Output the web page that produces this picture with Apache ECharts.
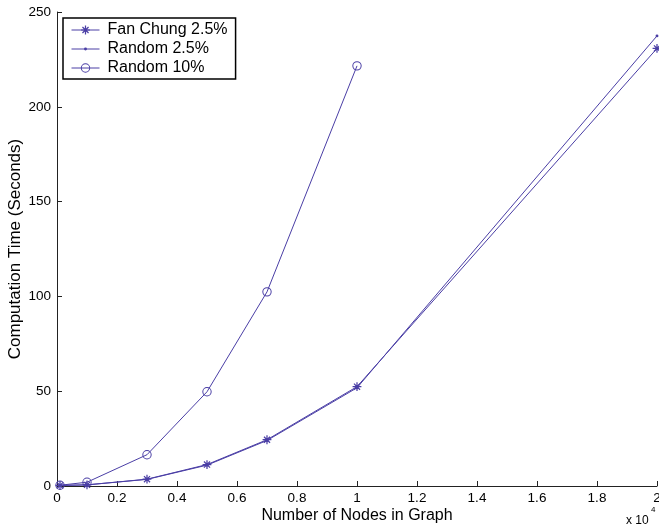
<!DOCTYPE html>
<html>
<head>
<meta charset="utf-8">
<script src="https://cdn.jsdelivr.net/npm/echarts@6/dist/echarts.min.js"></script>
<style>
  html, body { margin: 0; padding: 0; background: #fff; }
  #chart { width: 659px; height: 529px; }
</style>
</head>
<body>
<div id="chart"></div>
<script>
// Graph sizes (number of nodes) and measured computation times in seconds
const nodesSparse = [100, 1000, 3000, 5000, 7000, 10000, 20000];
const fanChung25 = [0.3, 0.6, 3.6, 11.3, 24.4, 52.4, 230.8];
const random25 = [0.3, 0.6, 3.5, 11.0, 24.0, 51.8, 237.4];
const nodesDense = [100, 1000, 3000, 5000, 7000, 10000];
const random10 = [0.4, 2.0, 16.5, 49.7, 102.4, 221.6];

const seriesNames = ['Fan Chung 2.5%', 'Random 2.5%', 'Random 10%'];
const xTicks = [0, 2000, 4000, 6000, 8000, 10000, 12000, 14000, 16000, 18000, 20000];
const yTicks = [0, 50, 100, 150, 200, 250];

const ink = '#4a3ea5';
const font = '"Liberation Sans", Arial, Helvetica, sans-serif';

// Marker shapes in a padded 20x20 box so the legend and the plot share the same scale
const asterisk = 'path://M0 0 Z M20 20 Z ' +
  'M1.5 8.8 L18.5 8.8 L18.5 11.2 L1.5 11.2 Z ' +
  'M8.8 1.5 L11.2 1.5 L11.2 18.5 L8.8 18.5 Z ' +
  'M5 3.3 L16.7 15 L15 16.7 L3.3 5 Z ' +
  'M15 3.3 L16.7 5 L5 16.7 L3.3 15 Z';
const dot = 'path://M0 0 Z M20 20 Z M7.2 10 A2.8 2.8 0 1 1 12.8 10 A2.8 2.8 0 1 1 7.2 10 Z';
// open ring: outer contour clockwise, inner contour counter-clockwise
const ring = 'path://M0 0 Z M20 20 Z ' +
  'M1 10 A9 9 0 1 1 19 10 A9 9 0 1 1 1 10 Z ' +
  'M2.9 10 A7.1 7.1 0 1 0 17.1 10 A7.1 7.1 0 1 0 2.9 10 Z';

const pairs = (xs, ys) => xs.map((x, i) => [x, ys[i]]);

const chart = echarts.init(document.getElementById('chart'), null, { renderer: 'canvas' });

chart.setOption({
  animation: false,
  backgroundColor: '#fff',
  textStyle: { fontFamily: font },
  grid: { left: 57, right: 2, top: 12, bottom: 43, containLabel: false, outerBoundsMode: 'none' },
  legend: {
    orient: 'vertical',
    left: 63,
    top: 18,
    data: seriesNames,
    itemWidth: 28,
    itemHeight: 13,
    itemGap: 3,
    padding: [4, 8, 3, 8],
    borderColor: '#000',
    borderWidth: 1.5,
    backgroundColor: '#fff',
    lineStyle: { width: 1 },
    textStyle: { fontFamily: font, fontSize: 16, color: '#000', lineHeight: 16, padding: [0, 0, 0, 3] }
  },
  xAxis: {
    type: 'value',
    min: xTicks[0],
    max: xTicks[xTicks.length - 1],
    interval: xTicks[1] - xTicks[0],
    name: 'Number of Nodes in Graph',
    nameLocation: 'middle',
    nameGap: 22,
    nameMoveOverlap: false,
    nameTextStyle: { fontFamily: font, fontSize: 16, color: '#000' },
    axisLine: { onZero: false, lineStyle: { color: '#222', width: 1 } },
    axisTick: { inside: true, length: 5, lineStyle: { color: '#222' } },
    axisLabel: {
      margin: 5,
      fontFamily: font,
      fontSize: 13.5,
      color: '#000',
      showMaxLabel: true,
      showMinLabel: true,
      formatter: v => String(parseFloat((v / 10000).toFixed(1)))
    },
    splitLine: { show: false }
  },
  yAxis: {
    type: 'value',
    min: yTicks[0],
    max: yTicks[yTicks.length - 1],
    interval: yTicks[1] - yTicks[0],
    name: 'Computation Time (Seconds)',
    nameLocation: 'middle',
    nameGap: 33,
    nameMoveOverlap: false,
    nameTextStyle: { fontFamily: font, fontSize: 17, color: '#000' },
    axisLine: { show: true, onZero: false, lineStyle: { color: '#222', width: 1 } },
    axisTick: { show: true, inside: true, length: 5, lineStyle: { color: '#222' } },
    axisLabel: { margin: 6, fontFamily: font, fontSize: 13.5, color: '#000' },
    splitLine: { show: false }
  },
  series: [
    {
      name: seriesNames[0],
      type: 'line',
      data: pairs(nodesSparse, fanChung25),
      symbol: asterisk,
      symbolSize: 10.4,
      color: ink,
      lineStyle: { color: ink, width: 1 },
      itemStyle: { color: ink }
    },
    {
      name: seriesNames[1],
      type: 'line',
      data: pairs(nodesSparse, random25),
      symbol: dot,
      symbolSize: 10.4,
      color: ink,
      lineStyle: { color: ink, width: 1 },
      itemStyle: { color: ink }
    },
    {
      name: seriesNames[2],
      type: 'line',
      data: pairs(nodesDense, random10),
      symbol: ring,
      symbolSize: 10.4,
      color: ink,
      lineStyle: { color: ink, width: 1 },
      itemStyle: { color: ink }
    }
  ],
  graphic: [
    {
      type: 'text',
      x: 626,
      y: 515,
      style: { text: 'x 10', fontFamily: font, fontSize: 12, fill: '#000' }
    },
    {
      type: 'text',
      x: 651,
      y: 506,
      style: { text: '4', fontFamily: font, fontSize: 8, fill: '#000' }
    }
  ]
});
</script>
</body>
</html>
